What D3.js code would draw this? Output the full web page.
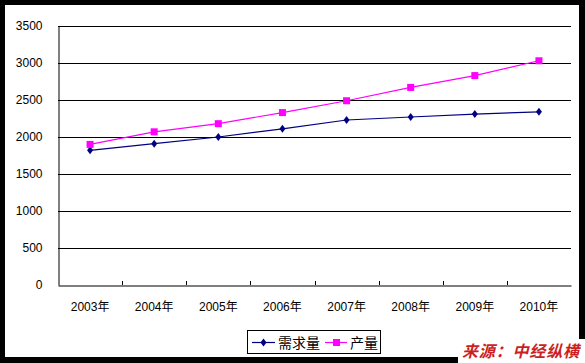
<!DOCTYPE html>
<html lang="zh">
<head>
<meta charset="UTF-8"/>
<title>需求量与产量</title>
<script src="https://d3js.org/d3.v7.min.js"></script>
<style>
  html, body { margin: 0; padding: 0; background: #000; }
  text { font-family: "Liberation Sans", "Noto Sans CJK SC", sans-serif; }
</style>
</head>
<body>
<svg id="chart" width="585" height="363"></svg>
<script>
// data
var years = ["2003年", "2004年", "2005年", "2006年", "2007年", "2008年", "2009年", "2010年"]
var demand = [1820, 1910, 2000, 2110, 2230, 2270, 2310, 2340]
var output = [1900, 2070, 2180, 2330, 2490, 2670, 2830, 3030]
var yTicks = [0, 500, 1000, 1500, 2000, 2500, 3000, 3500]

var svg = d3.select("#chart")

// black frame, white page
svg.append("rect").attr("width", 585).attr("height", 363).attr("fill", "#000")
svg.append("rect").attr("x", 5).attr("y", 5).attr("width", 574).attr("height", 352).attr("fill", "#fff")

var plotL = 58, plotR = 571, plotT = 26, plotB = 285

var x = d3.scaleBand().domain(years).range([plotL, plotR])
var y = d3.scaleLinear().domain([0, 3500]).range([plotB, plotT])

// gridlines
svg.append("g")
  .selectAll("line")
  .data(yTicks.slice(1))
  .enter().append("line")
    .attr("x1", plotL).attr("x2", plotR)
    .attr("y1", function(d) { return Math.round(y(d)) + 0.5 })
    .attr("y2", function(d) { return Math.round(y(d)) + 0.5 })
    .attr("stroke", "#000").attr("stroke-width", 1)

// y axis
var yAxis = svg.append("g")
  .attr("transform", "translate(" + (plotL + 0.5) + ",0)")
  .call(d3.axisLeft(y).tickValues(yTicks).tickFormat(d3.format("d")).tickSize(0).tickPadding(16))
yAxis.select(".domain").attr("stroke", "#000")
yAxis.selectAll("text").attr("font-size", "12px").attr("fill", "#000")

// x axis
var xAxis = svg.append("g")
  .attr("transform", "translate(0," + (plotB + 0.5) + ")")
  .call(d3.axisBottom(x).tickSize(0).tickPadding(17))
xAxis.select(".domain").attr("stroke", "#000")
xAxis.selectAll("text").attr("font-size", "12px").attr("fill", "#000")
  .attr("font-family", "'Noto Sans CJK SC', sans-serif")

// small tick marks between categories
svg.append("g")
  .selectAll("line")
  .data(years.slice(1))
  .enter().append("line")
    .attr("x1", function(d) { return Math.round(x(d)) + 0.5 })
    .attr("x2", function(d) { return Math.round(x(d)) + 0.5 })
    .attr("y1", plotB).attr("y2", plotB - 4)
    .attr("stroke", "#000")

var cx = function(d, i) { return x(years[i]) + x.bandwidth() / 2 }

var line = d3.line()
  .x(function(d, i) { return cx(d, i) })
  .y(function(d) { return y(d) })

var diamond = "M0,-4L3,0L0,4L-3,0Z"

// 需求量 series
svg.append("path").datum(demand)
  .attr("d", line).attr("fill", "none")
  .attr("stroke", "#000080").attr("stroke-width", 1.2)
svg.append("g").selectAll("path")
  .data(demand).enter().append("path")
    .attr("d", diamond)
    .attr("transform", function(d, i) { return "translate(" + cx(d, i) + "," + y(d) + ")" })
    .attr("fill", "#000080")

// 产量 series
svg.append("path").datum(output)
  .attr("d", line).attr("fill", "none")
  .attr("stroke", "#ff00ff").attr("stroke-width", 1.2)
svg.append("g").selectAll("rect")
  .data(output).enter().append("rect")
    .attr("x", function(d, i) { return cx(d, i) - 3.5 })
    .attr("y", function(d) { return y(d) - 3.5 })
    .attr("width", 7).attr("height", 7)
    .attr("fill", "#ff00ff")

// legend
var legend = svg.append("g")
legend.append("rect")
  .attr("x", 247.5).attr("y", 330.5).attr("width", 133).attr("height", 23)
  .attr("fill", "#fff").attr("stroke", "#000")

legend.append("line").attr("x1", 252).attr("x2", 275).attr("y1", 342.5).attr("y2", 342.5)
  .attr("stroke", "#000080").attr("stroke-width", 1.2)
legend.append("path").attr("d", diamond)
  .attr("transform", "translate(263.5,342.5)").attr("fill", "#000080")
legend.append("text").attr("x", 278).attr("y", 348).text("需求量")
  .attr("font-size", "14px").attr("font-family", "'Noto Sans CJK SC', sans-serif")

legend.append("line").attr("x1", 325).attr("x2", 347).attr("y1", 342.5).attr("y2", 342.5)
  .attr("stroke", "#ff00ff").attr("stroke-width", 1.2)
legend.append("rect").attr("x", 333).attr("y", 339).attr("width", 7).attr("height", 7)
  .attr("fill", "#ff00ff")
legend.append("text").attr("x", 350).attr("y", 348).text("产量")
  .attr("font-size", "14px").attr("font-family", "'Noto Sans CJK SC', sans-serif")

// source note, sits on a white patch over the frame
svg.append("rect").attr("x", 458).attr("y", 339).attr("width", 127).attr("height", 24).attr("fill", "#fff")
svg.append("text").attr("x", 462).attr("y", 357).text("来源：中经纵横")
  .attr("font-size", "16px").attr("font-weight", "bold").attr("font-style", "italic")
  .attr("fill", "#cc1f1f").attr("font-family", "'Noto Sans CJK SC', sans-serif")
  .attr("textLength", 117)
</script>
</body>
</html>
